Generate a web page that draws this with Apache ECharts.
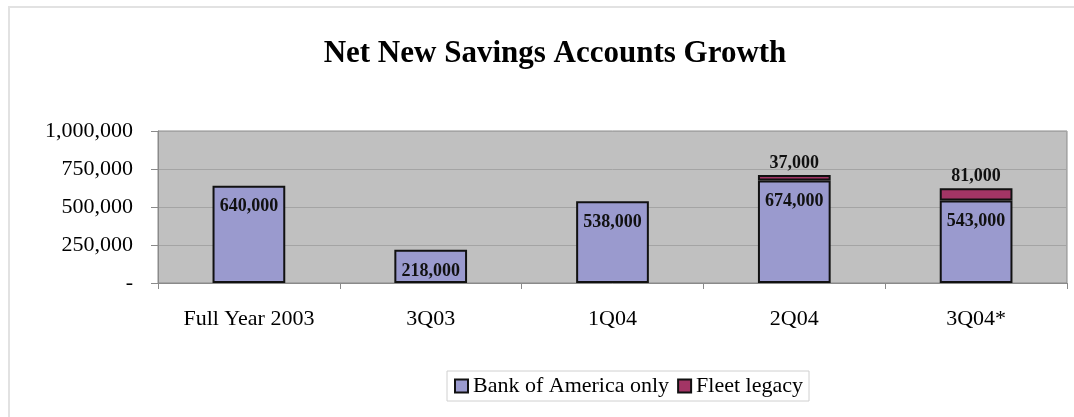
<!DOCTYPE html>
<html>
<head>
<meta charset="utf-8">
<script src="https://cdn.jsdelivr.net/npm/echarts@6/dist/echarts.min.js"></script>
<style>
  html, body { margin: 0; padding: 0; background: #ffffff; }
  #chart { width: 1074px; height: 417px; }
</style>
</head>
<body>
<div id="chart"></div>
<script>
// Quarterly net new savings accounts, split by origin
const categories = ['Full Year 2003', '3Q03', '1Q04', '2Q04', '3Q04*'];
const bankOfAmericaOnly = [640000, 218000, 538000, 674000, 543000];
const fleetLegacy = [null, null, null, 37000, 81000];
const yTickValues = [0, 250000, 500000, 750000, 1000000];
const yTickLabels = ['-', '250,000', '500,000', '750,000', '1,000,000'];

const serif = '"Liberation Serif", "Times New Roman", "DejaVu Serif", serif';
const fmt = v => Number(v).toLocaleString('en-US');

const chart = echarts.init(document.getElementById('chart'), null, { renderer: 'canvas' });

chart.setOption({
  backgroundColor: '#ffffff',
  animation: false,
  graphic: [{
    type: 'rect',
    shape: { x: 9, y: 7, width: 1200, height: 600 },
    style: { fill: 'none', stroke: '#e2e2e2', lineWidth: 2 },
    silent: true,
    z: -1
  }],
  title: {
    text: 'Net New Savings Accounts Growth',
    left: 550,
    textAlign: 'center',
    top: 33,
    textStyle: { fontFamily: serif, fontWeight: 'bold', fontSize: 31, color: '#000' }
  },
  legend: {
    left: 447,
    top: 371,
    orient: 'horizontal',
    icon: 'rect',
    itemWidth: 13,
    itemHeight: 13,
    itemGap: 8,
    padding: [4, 6, 4, 7],
    borderColor: '#d0d0d0',
    borderWidth: 1,
    textStyle: { fontFamily: serif, fontSize: 22, color: '#000', padding: [0, 0, 0, 0] },
    data: ['Bank of America only', 'Fleet legacy']
  },
  grid: {
    left: 158, right: 7, top: 131, bottom: 134,
    show: true,
    backgroundColor: '#c0c0c0',
    borderColor: '#8a8a8a',
    borderWidth: 1,
    containLabel: false
  },
  xAxis: {
    type: 'category',
    data: categories,
    axisLine: { show: true, lineStyle: { color: '#8a8a8a', width: 1 } },
    axisTick: { show: true, length: 6, lineStyle: { color: '#8a8a8a' } },
    axisLabel: { fontFamily: serif, fontSize: 22, color: '#000', margin: 25 }
  },
  yAxis: {
    type: 'value',
    min: 0,
    max: 1000000,
    interval: 250000,
    axisLine: { show: true, lineStyle: { color: '#8a8a8a' } },
    axisTick: { show: true, length: 7, lineStyle: { color: '#8a8a8a' } },
    splitLine: { show: true, lineStyle: { color: '#a4a4a4', width: 1 } },
    axisLabel: {
      fontFamily: serif, fontSize: 22, color: '#000', margin: 25,
      formatter: v => {
        const i = yTickValues.indexOf(v);
        return i >= 0 ? yTickLabels[i] : fmt(v);
      }
    }
  },
  series: [
    {
      name: 'Bank of America only',
      type: 'bar',
      stack: 'accounts',
      barWidth: '40%',
      data: bankOfAmericaOnly,
      itemStyle: { color: '#9a9ace', borderColor: '#111', borderWidth: 2 },
      label: {
        show: true,
        position: 'insideTop',
        distance: 12,
        fontFamily: serif, fontWeight: 'bold', fontSize: 18, color: '#111',
        formatter: p => fmt(p.value)
      }
    },
    {
      name: 'Fleet legacy',
      type: 'bar',
      stack: 'accounts',
      barWidth: '40%',
      data: fleetLegacy,
      itemStyle: { color: '#a33565', borderColor: '#111', borderWidth: 2 },
      label: {
        show: true,
        position: 'top',
        distance: 3,
        fontFamily: serif, fontWeight: 'bold', fontSize: 18, color: '#111',
        formatter: p => (p.value == null ? '' : fmt(p.value))
      }
    }
  ]
});
</script>
</body>
</html>
